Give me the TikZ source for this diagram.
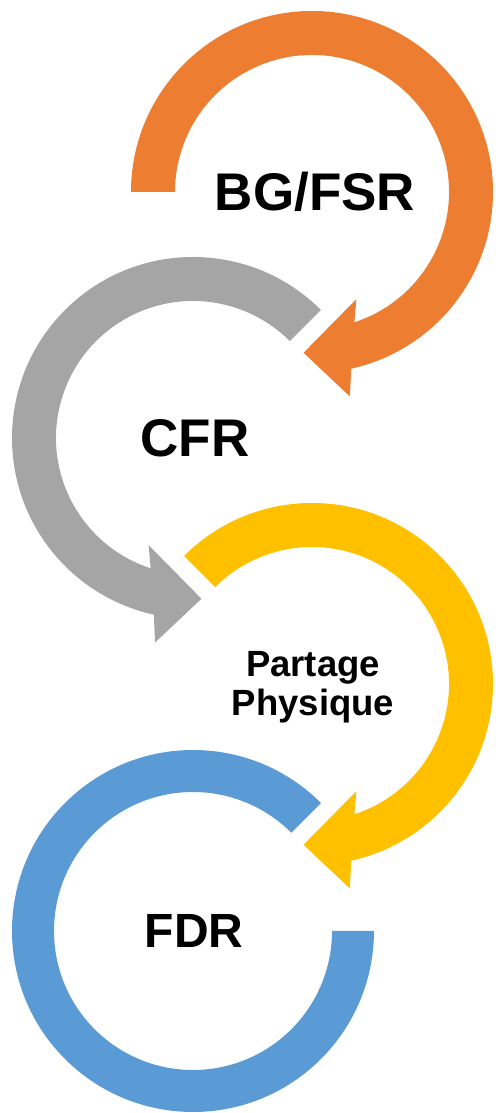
\documentclass[tikz,border=0pt]{standalone}
\usepackage{fontspec}
\setmainfont{Liberation Sans}
\usetikzlibrary{positioning}
\usetikzlibrary{calc}

\definecolor{orangeacc}{HTML}{ED7D31}
\definecolor{grayacc}{HTML}{A5A5A5}
\definecolor{yellowacc}{HTML}{FFC000}
\definecolor{blueacc}{HTML}{5B9BD5}

\begin{document}
\begin{tikzpicture}[x=1pt,y=1pt,
    lbl/.style={font=\fontsize{53}{60}\selectfont\bfseries, align=center, inner sep=0pt},
    lblsmall/.style={font=\fontsize{36.5}{39}\selectfont\bfseries, align=center, inner sep=0pt}]
  % fixed frame of the picture
  \useasboundingbox (0,0) rectangle (495,1113);

  % radii of the rings
  \def\rout{181}
  \def\rin{137}

  % centres of the four rings
  \coordinate (cbg) at (312,921);
  \coordinate (ccfr) at (193,675);
  \coordinate (cpart) at (312,429);
  \coordinate (cfdr) at (193,182);

  % clockwise arrows, head at the bottom left
  \foreach \c/\a/\col in {cbg/180/orangeacc, cpart/135/yellowacc} {
    \fill[\col, shift={(\c)}] (\a:\rout) arc[start angle=\a, end angle=-77.5, radius=\rout]
      -- (-79.5:208) -- (-93:161) -- (-67.5:116) -- (-72:\rin)
      arc[start angle=-72, end angle=\a, radius=\rin] -- cycle;
  }

  % anticlockwise arrow, head at the bottom right
  \fill[grayacc, shift={(ccfr)}] (45:\rout) arc[start angle=45, end angle=257.5, radius=\rout]
    -- (259.5:208) -- (273:161) -- (247.5:116) -- (252:\rin)
    arc[start angle=252, end angle=45, radius=\rin] -- cycle;

  % last ring, no head
  \fill[blueacc, shift={(cfdr)}] (45:\rout) arc[start angle=45, end angle=360, radius=\rout]
    -- (0:139) arc[start angle=360, end angle=45, radius=139] -- cycle;

  % labels
  \node[lbl] (bg) at ($(cbg)+(3,0)$) {BG/FSR};
  \node[lbl] (cfr) at ($(ccfr)+(2,0)$) {CFR};
  \node[lblsmall] (part) at ($(cpart)+(1,-3)$) {Partage\\Physique};
  \node[lbl, font=\fontsize{48}{54}\selectfont\bfseries] (fdr) at ($(cfdr)+(1,0)$) {FDR};
\end{tikzpicture}
\end{document}
